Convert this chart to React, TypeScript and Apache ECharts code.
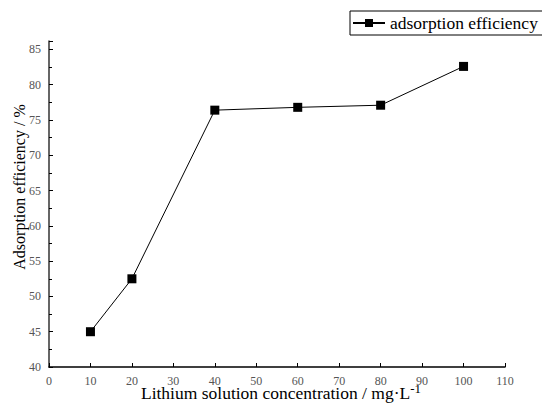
import React, { useEffect, useRef } from "react";
import * as echarts from "echarts";

const concentrations = [10, 20, 40, 60, 80, 100];
const efficiency = [45.0, 52.5, 76.4, 76.8, 77.1, 82.6];
const seriesName = "adsorption efficiency";
const xTitle = "Lithium solution concentration / mg·L";
const yTitle = "Adsorption efficiency / %";

export default function App() {
  const ref = useRef<HTMLDivElement>(null);
  useEffect(() => {
    const chart = echarts.init(ref.current!, null, { renderer: "svg" });
    const serif = "Liberation Serif";
    chart.setOption({
      animation: false,
      backgroundColor: "#fff",
      grid: { left: 49, right: 37, top: 41, bottom: 38, outerBoundsMode: "none", containLabel: false },
      legend: {
        left: 350,
        top: 11,
        data: [seriesName],
        borderColor: "#000",
        borderWidth: 1,
        padding: [3, 14, 3, 2],
        itemWidth: 32,
        itemHeight: 10,
        itemGap: 4,
        textStyle: { fontFamily: serif, fontSize: 17.5, color: "#000" },
      },
      xAxis: {
        type: "value",
        min: 0,
        max: 110,
        interval: 10,
        splitLine: { show: false },
        axisLine: { lineStyle: { color: "#000", width: 1.5 } },
        axisTick: { inside: true, length: 4, lineStyle: { color: "#000" } },
        axisLabel: { fontFamily: serif, fontSize: 12, color: "#555", margin: 8 },
        name: "{t|" + xTitle + "}{s|-1}",
        nameLocation: "middle",
        nameGap: 18,
        nameMoveOverlap: false,
        nameTextStyle: {
          padding: [0, 0, 0, 8],
          rich: {
            t: { fontFamily: serif, fontSize: 17.5, lineHeight: 17, color: "#000", verticalAlign: "bottom" },
            s: { fontFamily: serif, fontSize: 13, lineHeight: 13, color: "#000", padding: [0, 0, 7, 0], verticalAlign: "bottom" },
          },
        },
      },
      yAxis: {
        type: "value",
        min: 40,
        max: 86.2,
        interval: 5,
        splitLine: { show: false },
        axisLine: { lineStyle: { color: "#333", width: 1.5 } },
        axisTick: { inside: true, length: 4, lineStyle: { color: "#000" } },
        minorTick: { show: true, splitNumber: 2, length: 3, lineStyle: { color: "#000" } },
        axisLabel: {
          fontFamily: serif,
          fontSize: 12,
          color: "#555",
          margin: 8,
          showMaxLabel: false,
        },
        name: yTitle,
        nameLocation: "middle",
        nameGap: 22,
        nameMoveOverlap: false,
        nameTextStyle: { fontFamily: serif, fontSize: 16, color: "#000", padding: [0, 0, 0, 34] },
      },
      series: [
        {
          name: seriesName,
          type: "line",
          data: concentrations.map((c, i) => [c, efficiency[i]]),
          symbol: "rect",
          symbolSize: 9,
          itemStyle: { color: "#000" },
          lineStyle: { color: "#000", width: 1 },
        },
      ],
    });
    return () => chart.dispose();
  }, []);
  return <div ref={ref} style={{ width: 542, height: 405, position: "absolute", left: 0, top: 0 }} />;
}
